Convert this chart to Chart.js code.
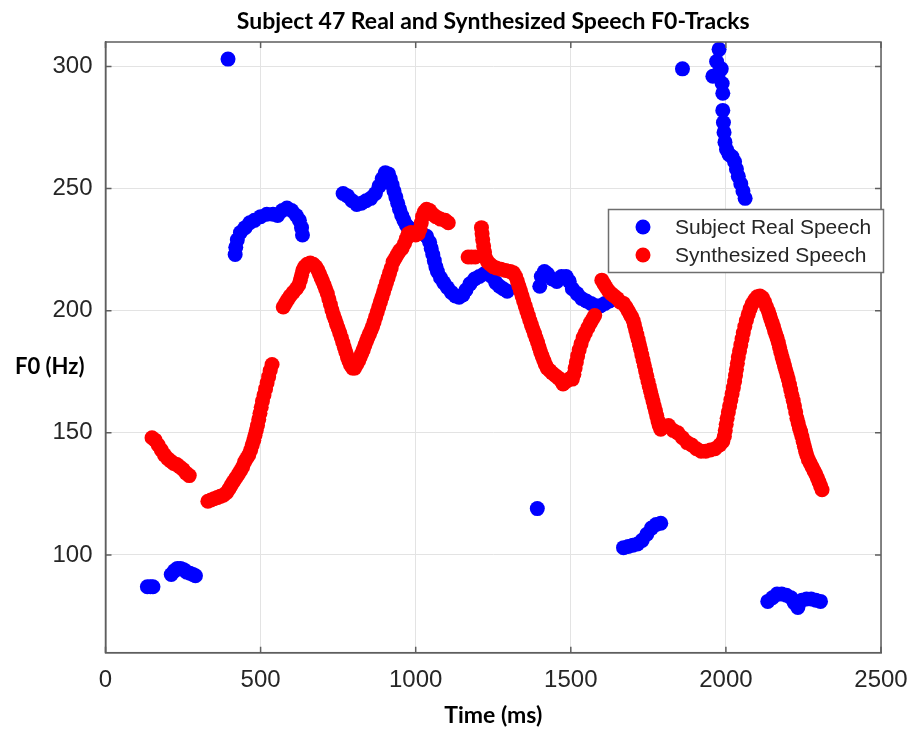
<!DOCTYPE html>
<html>
<head>
<meta charset="utf-8">
<script src="https://cdn.jsdelivr.net/npm/chart.js@4.4.1/dist/chart.umd.min.js"></script>
<style>
  html, body { margin: 0; padding: 0; background: #fff; }
  #wrap { width: 911px; height: 730px; }
</style>
</head>
<body>
<div id="wrap"><canvas id="f0Chart" width="911" height="730"></canvas></div>
<script>
// F0 tracks (time in ms, F0 in Hz)
const realTime = [
  135, 145, 153,
  212, 222, 232, 242, 252, 262, 272, 282, 290,
  395,
  418, 420, 425, 435, 450, 465, 480, 500, 520, 540, 555, 570, 585, 600, 615, 625, 632, 635,
  766, 780, 795, 810, 825, 840, 855, 870, 882, 892, 902, 912, 918, 924, 930, 936, 942, 948, 955, 962,
  970, 978, 990, 1005, 1020, 1035, 1045, 1050, 1055, 1060, 1065, 1070, 1080, 1090, 1102, 1115, 1128,
  1140, 1152, 1162, 1175, 1190, 1205, 1220, 1232, 1245, 1258, 1270, 1282, 1295,
  1392,
  1400, 1405, 1415, 1425, 1440, 1455, 1470, 1485, 1495, 1505, 1520, 1535, 1550, 1565, 1580, 1595, 1610, 1625, 1645,
  1670, 1685, 1700, 1715, 1730, 1745, 1760, 1775, 1790,
  1860, 1978, 1970, 1985, 1958, 1975, 1988, 1990, 1990, 1992, 1994, 1997, 2002, 2010, 2020, 2028, 2034, 2040, 2048, 2055, 2062,
  2135, 2150, 2165, 2180, 2195, 2210, 2220, 2232, 2245, 2260, 2275, 2290, 2305
];
const realF0 = [
  87, 87, 87,
  92, 93.5, 94.5, 94.5, 94, 93, 92.5, 92, 91.5,
  303,
  223, 226, 229, 232, 234, 236, 237, 238.5, 239.5, 239.5, 239, 241, 242, 241, 239, 237, 234, 231,
  248, 247, 245, 243.5, 244, 245, 246, 248, 251, 254, 256.5, 256, 254, 251.5, 249, 246.5, 244, 241.5, 239, 237,
  235, 234, 233, 232, 231.5, 230.5, 228, 225.5, 223, 220.5, 218, 216, 213.5, 211.5, 209.5, 207.5, 206,
  205.5, 206.5, 208.5, 211, 213, 214, 215, 216, 214, 211.5, 210, 209, 208,
  119,
  210, 214, 216, 215, 213, 212, 214, 214, 212, 209, 207, 205, 204, 203, 202, 202, 203, 204, 205,
  103, 103.5, 104, 104.5, 106, 108.5, 111, 112.5, 113,
  299, 307, 302, 299, 296, 297, 293, 289, 282, 277, 273, 269, 266, 264, 263, 261, 258, 255, 252, 249, 246,
  81, 82.5, 84, 84, 83.5, 82.5, 80.5, 78.5, 81.5, 82, 82, 81.5, 81
];

const synthTime = [
  150, 160, 170, 180, 190, 200, 210, 220, 230, 240, 250, 260, 270,
  330, 340, 350, 360, 370, 380, 390, 398, 405, 412, 420, 428, 435, 442, 448, 455, 462, 468, 473, 478,
  482, 486, 490, 494, 498, 502, 506, 511, 516, 521, 526, 531, 537,
  573, 580, 587, 595, 605, 615, 623, 628, 632, 636, 642, 650, 660, 670, 678, 685, 690, 695, 700, 705,
  710, 715, 720, 725, 730, 735, 740, 745, 750, 755, 760, 765, 770, 775, 780, 785, 790, 797, 803, 810,
  816, 821, 826, 831, 836, 841, 846, 851, 856, 861, 866, 871, 876, 881, 886, 891, 896, 901, 906, 911,
  916, 921, 927, 934, 941, 948, 956, 964, 970, 976, 985, 993, 1000, 1008, 1014, 1018, 1022, 1028, 1035,
  1045, 1055, 1065, 1080, 1095, 1105,
  1169, 1180, 1192, 1212, 1214, 1216, 1219, 1222, 1226, 1232, 1240, 1250, 1260, 1275, 1290, 1305, 1315,
  1322, 1328, 1333, 1338, 1343, 1348, 1353, 1358, 1363, 1368, 1373, 1378, 1383, 1388, 1393, 1398, 1403,
  1408, 1413, 1418, 1424, 1432, 1440, 1450, 1460, 1468, 1475, 1485, 1495, 1505, 1510, 1514, 1518, 1522,
  1527, 1533, 1540, 1547, 1555, 1563, 1570, 1577,
  1600, 1607, 1614, 1622, 1630, 1640, 1650, 1660, 1670, 1678, 1685, 1691, 1696, 1701, 1705, 1709, 1713,
  1717, 1721, 1725, 1729, 1733, 1737, 1741, 1745, 1749, 1753, 1757, 1761, 1765, 1769, 1773, 1777, 1781,
  1785, 1790, 1800, 1815, 1830, 1845, 1860, 1875, 1890, 1905, 1920, 1935, 1950, 1965, 1980, 1990, 1995,
  1998, 2001, 2004, 2008, 2012, 2016, 2020, 2024, 2028, 2031, 2034, 2037, 2040, 2044, 2048, 2052, 2056,
  2061, 2066, 2072, 2078, 2085, 2093, 2101, 2110, 2118, 2125, 2131, 2137, 2141, 2145, 2149, 2153, 2157,
  2161, 2165, 2169, 2173, 2177, 2181, 2185, 2189, 2193, 2197, 2201, 2205, 2209, 2213, 2217, 2221, 2225,
  2229, 2233, 2237, 2241, 2245, 2249, 2253, 2257, 2261, 2266, 2272, 2278, 2284, 2290, 2295, 2300, 2305, 2310
];
const synthF0 = [
  148, 147, 145, 143, 141, 139.5, 138.5, 137.5, 137, 136, 135, 133.5, 132.5,
  122, 122.5, 123, 123.5, 124, 124.5, 125.5, 127, 128.5, 130, 131.5, 133, 134.5, 136, 138, 139.5, 141, 143, 145, 147,
  149, 151, 153, 155.5, 158, 160.5, 163, 165.5, 168, 170.5, 173, 175.5, 178,
  201.5, 203, 204.5, 206, 207.5, 209, 210.5, 212.5, 214.5, 216.5, 218, 219, 219.5, 219, 218, 216.5, 215, 213.5, 212, 210.5,
  208.8, 207, 204.8, 202.5, 200.3, 198.2, 196.5, 194.5, 192.8, 191, 189, 187, 185, 183, 181, 179.3, 177.8, 176.5, 176.5, 178,
  179.5, 181, 182.5, 184, 185.8, 187.5, 189, 190.5, 192, 193.5, 195.5, 197.5, 199.5, 201.5, 203.5, 205.5, 207.5, 209.5, 211.5, 213.5,
  215.5, 217.5, 220, 221.5, 223, 224.5, 225.5, 227.5, 229.5, 231.5, 232, 231.5, 231, 231.5, 233.5, 236, 238.5, 240.5, 241.5,
  241, 239.5, 238.5, 237.5, 237, 236,
  222, 222, 222, 234, 231.5, 229, 226.5, 224, 221.5, 220, 219, 218, 217.5, 217, 216.5, 216, 215.5,
  214, 212, 210, 208, 206, 204, 202, 200, 198, 196, 194.2, 192.4, 190.6, 188.8, 187, 185, 183,
  181.3, 179.6, 178, 176.5, 175.5, 174.5, 173.5, 172.5, 171.5, 170, 171, 172, 172, 174, 176.5, 179, 181.5,
  184, 186.5, 189, 191, 193, 195, 196.5, 198,
  212.5, 211, 209.5, 208, 207, 206, 205, 203.5, 203, 201.5, 200, 198.5, 197.5, 196, 194.2, 192.2, 190.2,
  188.2, 186.2, 184.2, 182, 179.8, 177.6, 175.4, 173.2, 171, 169, 167, 165, 163, 161, 159, 157, 155,
  153, 151.5, 152.5, 153, 151, 150, 148, 146, 145, 143.5, 142.5, 142.5, 143, 143.5, 145, 146.5, 148.5,
  151, 153.5, 156, 158.5, 161, 163.5, 166, 168.5, 171, 173.5, 176, 178.5, 181, 183.5, 186, 188.5, 191,
  193.5, 196, 198.5, 200.8, 202.8, 204.5, 205.7, 206, 205.3, 203.5, 201.5, 199.8, 198, 196.5, 195, 193.5, 191.8,
  190.3, 188.8, 187, 185, 183, 181, 179.2, 177.4, 175.6, 173.8, 172, 169.8, 167.6, 165.4, 163.2, 161, 158.5,
  156, 154, 152, 150.5, 148.5, 146.5, 144.5, 142.5, 140.8, 139, 137.5, 136, 134.5, 133, 131.5, 130, 128.3, 126.7
];

const seriesLabels = ['Subject Real Speech', 'Synthesized Speech'];
const seriesColors = ['#0000ff', '#ff0000'];
const xTicks = [0, 500, 1000, 1500, 2000, 2500];
const yTicks = [100, 150, 200, 250, 300];

const toPoints = (xs, ys) => xs.map((x, i) => ({ x, y: ys[i] }));

const axisColor = '#5e5e5e';
const tickFont = { family: "'Liberation Sans', Arial, sans-serif", size: 24 };
const boldFont = "'Lato', 'Open Sans', sans-serif";

// box on top/right, inward tick marks, horizontal y label, legend
const matlabAxes = {
  id: 'matlabAxes',
  afterDatasetsDraw(chart) {
    const { ctx, chartArea: a, scales } = chart;
    ctx.save();
    ctx.strokeStyle = axisColor;
    ctx.lineWidth = 1.5;
    ctx.strokeRect(a.left, a.top, a.right - a.left, a.bottom - a.top);
    ctx.beginPath();
    xTicks.forEach(v => {
      const px = scales.x.getPixelForValue(v);
      ctx.moveTo(px, a.bottom); ctx.lineTo(px, a.bottom - 6);
      ctx.moveTo(px, a.top); ctx.lineTo(px, a.top + 6);
    });
    yTicks.forEach(v => {
      const py = scales.y.getPixelForValue(v);
      ctx.moveTo(a.left, py); ctx.lineTo(a.left + 6, py);
      ctx.moveTo(a.right, py); ctx.lineTo(a.right - 6, py);
    });
    ctx.stroke();

    // y axis label, written horizontally like the original
    ctx.fillStyle = '#000';
    ctx.font = 'bold 22px ' + boldFont;
    ctx.textAlign = 'left';
    ctx.textBaseline = 'middle';
    ctx.fillText('F0 (Hz)', 15, 367);

    // legend box
    const lx = 608.5, ly = 209.5, lw = 275, lh = 63;
    ctx.fillStyle = '#fff';
    ctx.fillRect(lx, ly, lw, lh);
    ctx.strokeStyle = '#6e6e6e';
    ctx.lineWidth = 1.5;
    ctx.strokeRect(lx, ly, lw, lh);
    ctx.font = "21px 'Liberation Sans', Arial, sans-serif";
    ctx.textBaseline = 'middle';
    seriesLabels.forEach((lab, i) => {
      const cy = 227 + i * 28;
      ctx.fillStyle = seriesColors[i];
      ctx.beginPath();
      ctx.arc(643, cy, 7.5, 0, Math.PI * 2);
      ctx.fill();
      ctx.fillStyle = '#262626';
      ctx.fillText(lab, 675, cy + 1);
    });
    ctx.restore();
  }
};

new Chart(document.getElementById('f0Chart'), {
  type: 'scatter',
  data: {
    datasets: [
      {
        label: seriesLabels[0],
        data: toPoints(realTime, realF0),
        backgroundColor: seriesColors[0],
        borderWidth: 0,
        pointRadius: 7.5,
        order: 1
      },
      {
        label: seriesLabels[1],
        data: toPoints(synthTime, synthF0),
        backgroundColor: seriesColors[1],
        borderWidth: 0,
        pointRadius: 7.5,
        order: 0
      }
    ]
  },
  plugins: [matlabAxes],
  options: {
    responsive: false,
    animation: false,
    layout: { padding: { left: 0, right: 30, top: 0, bottom: 0 } },
    plugins: {
      legend: { display: false },
      tooltip: { enabled: false },
      title: {
        display: true,
        fullSize: false,
        text: 'Subject 47 Real and Synthesized Speech F0-Tracks',
        color: '#000',
        font: { family: boldFont, size: 23, weight: 'bold' },
        padding: { top: 8, bottom: 6.4 }
      }
    },
    scales: {
      x: {
        type: 'linear',
        min: 0,
        max: 2500,
        afterBuildTicks: s => { s.ticks = xTicks.map(v => ({ value: v })); },
        afterFit: s => { s.height = 77.3; s.paddingLeft = 0; s.paddingRight = 0; },
        ticks: { color: '#262626', font: tickFont, padding: 13, maxRotation: 0, callback: v => String(v) },
        grid: { color: '#e3e3e3', lineWidth: 1, drawTicks: false },
        border: { color: axisColor, width: 1.5 },
        title: {
          display: true,
          text: 'Time (ms)',
          color: '#000',
          font: { family: boldFont, size: 23, weight: 'bold' },
          padding: { top: 0, bottom: 1 }
        }
      },
      y: {
        type: 'linear',
        min: 60,
        max: 310,
        afterBuildTicks: s => { s.ticks = yTicks.map(v => ({ value: v })); },
        afterFit: s => { s.width = 105.5; },
        ticks: { color: '#262626', font: tickFont, padding: 13, callback: v => String(v) },
        grid: { color: '#e3e3e3', lineWidth: 1, drawTicks: false },
        border: { color: axisColor, width: 1.5 }
      }
    }
  }
});
</script>
</body>
</html>
